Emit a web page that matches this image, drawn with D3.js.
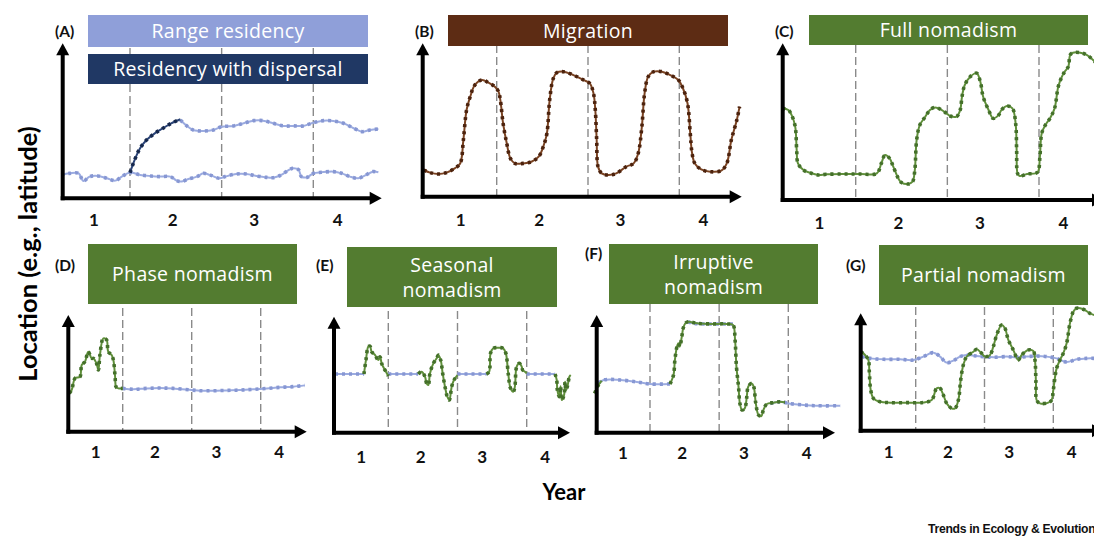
<!DOCTYPE html>
<html>
<head>
<meta charset="utf-8">
<script src="https://cdn.jsdelivr.net/npm/d3@7"></script>
<style>
  body { margin: 0; background: #fff; }
  svg { display: block; }
</style>
</head>
<body>
<svg id="chart" width="1094" height="536"></svg>
<script>
// ---- values: [year position, location (0 = x axis, 100 = arrow tip)] ----
const years = ["1", "2", "3", "4"];
const yearLabelAt = [0.6, 1.46, 2.35, 3.26];

const rangeResidencyLow = [[0.25,15.1],[0.34,16.1],[0.44,16.1],[0.49,11.2],[0.56,14.0],[0.65,14.4],[0.75,12.9],[0.84,11.4],[0.91,14.0],[1.0,16.6],[1.11,15.1],[1.22,14.4],[1.33,14.0],[1.44,14.0],[1.51,11.4],[1.56,10.8],[1.63,12.3],[1.73,14.0],[1.80,16.1],[1.87,15.1],[1.98,12.9],[2.04,14.0],[2.16,15.7],[2.27,15.7],[2.38,14.4],[2.49,13.5],[2.56,13.3],[2.65,15.1],[2.72,17.8],[2.78,19.4],[2.84,18.3],[2.87,14.0],[2.93,13.5],[3.0,16.1],[3.09,16.8],[3.22,17.2],[3.31,16.1],[3.40,14.0],[3.49,12.9],[3.56,14.6],[3.65,17.2],[3.71,16.8]];
const rangeResidencyHigh = [[1.55,50.5],[1.62,46.7],[1.69,44.1],[1.80,43.4],[1.91,44.1],[2.0,46.2],[2.13,46.7],[2.24,48.4],[2.35,50.1],[2.45,50.1],[2.56,48.4],[2.67,46.7],[2.78,46.7],[2.89,46.7],[3.0,48.8],[3.11,50.1],[3.22,49.9],[3.33,48.4],[3.44,45.2],[3.53,43.0],[3.62,44.1],[3.71,44.7]];
const dispersal = [[1.0,16.6],[1.05,24.7],[1.11,32.3],[1.18,37.6],[1.27,41.9],[1.36,45.2],[1.45,48.4],[1.55,51.0]];

const migration = [[0.2,17.4],[0.27,15.7],[0.36,14.8],[0.45,15.7],[0.54,18.5],[0.6,21.7],[0.635,37.0],[0.67,56.5],[0.71,65.2],[0.76,72.8],[0.84,76.1],[0.91,74.3],[0.98,71.7],[1.02,68.5],[1.04,63.0],[1.07,47.8],[1.11,34.8],[1.15,25.0],[1.2,21.7],[1.29,21.7],[1.38,22.8],[1.46,26.1],[1.51,32.6],[1.55,41.3],[1.58,63.0],[1.62,77.2],[1.66,80.9],[1.73,81.5],[1.84,79.3],[1.95,76.1],[2.02,73.9],[2.06,67.4],[2.08,56.5],[2.095,37.0],[2.11,19.6],[2.15,15.2],[2.22,14.1],[2.31,15.2],[2.42,19.6],[2.5,21.7],[2.55,28.3],[2.59,45.7],[2.62,67.4],[2.66,78.3],[2.72,81.5],[2.81,81.5],[2.9,79.3],[2.99,76.1],[3.04,70.7],[3.09,60.9],[3.12,41.3],[3.14,28.3],[3.17,21.7],[3.24,17.8],[3.34,16.3],[3.46,17.0],[3.52,21.7],[3.57,37.0],[3.63,50.0],[3.66,58.7]];

const fullNomadism = [[0.2,58.5],[0.265,57.4],[0.3,54.3],[0.34,46.8],[0.356,31.9],[0.37,23.4],[0.43,19.1],[0.5,17.4],[0.59,16.0],[0.68,16.4],[0.865,16.6],[1.05,16.6],[1.23,17.0],[1.28,23.4],[1.32,28.7],[1.37,26.6],[1.41,21.3],[1.465,13.8],[1.5,11.1],[1.57,10.2],[1.62,11.7],[1.645,19.1],[1.665,38.3],[1.7,47.9],[1.76,53.2],[1.81,57.4],[1.865,59.1],[1.94,57.4],[1.99,55.3],[2.03,53.6],[2.1,53.2],[2.14,57.4],[2.16,66.0],[2.19,73.4],[2.25,78.7],[2.32,80.9],[2.36,75.5],[2.39,66.0],[2.45,57.4],[2.5,52.1],[2.56,54.3],[2.59,57.4],[2.65,60.0],[2.71,58.5],[2.745,48.9],[2.756,31.9],[2.766,17.0],[2.79,15.3],[2.87,16.6],[2.96,17.0],[2.99,18.1],[3.01,27.7],[3.03,42.6],[3.07,47.9],[3.12,52.1],[3.17,58.5],[3.21,72.3],[3.25,78.7],[3.28,81.9],[3.32,85.1],[3.34,92.6],[3.37,94.0],[3.45,94.0],[3.52,92.6],[3.59,89.4],[3.66,85.0]];

const phaseNomadic = [[0.227,32.9],[0.26,35.7],[0.31,45.7],[0.38,47.1],[0.406,57.1],[0.454,60.0],[0.5,68.6],[0.55,62.9],[0.575,62.9],[0.62,58.6],[0.647,52.9],[0.67,65.7],[0.72,80.0],[0.768,78.6],[0.79,68.6],[0.84,65.7],[0.865,61.4],[0.89,47.1],[0.903,38.6],[0.937,37.1],[1.0,37.1]];
const phaseResident = [[1.0,37.1],[1.155,36.3],[1.35,37.1],[1.54,37.4],[1.73,37.1],[2.0,35.7],[2.12,35.1],[2.31,35.1],[2.51,35.4],[2.7,35.7],[2.89,36.3],[3.09,37.1],[3.28,38.0],[3.47,38.6],[3.64,39.7]];

const seasonalResident = [
  [[0.23,50.6],[0.65,50.6]],
  [[1.0,50.6],[1.43,50.6]],
  [[2.0,50.6],[2.42,50.6]],
  [[3.0,50.6],[3.41,50.6]]
];
const seasonalMoves = [
  [[0.648,50.6],[0.677,62.6],[0.711,74.1],[0.735,74.7],[0.759,69.8],[0.807,67.0],[0.855,62.6],[0.88,65.5],[0.904,59.8],[0.937,55.5],[0.966,52.6],[1.0,48.9]],
  [[1.434,50.6],[1.482,52.6],[1.53,48.3],[1.554,42.5],[1.578,41.1],[1.602,51.1],[1.651,59.8],[1.699,64.1],[1.723,67.0],[1.757,62.6],[1.786,51.1],[1.819,39.7],[1.853,31.0],[1.882,28.2],[1.916,39.7],[1.949,45.4],[2.0,49.7]],
  [[2.419,50.6],[2.458,52.6],[2.477,68.4],[2.516,72.7],[2.588,73.3],[2.66,72.7],[2.699,68.4],[2.733,51.1],[2.767,38.2],[2.805,35.3],[2.829,39.7],[2.855,56.9],[2.894,59.8],[2.928,56.9],[2.942,54.0],[2.976,52.6],[3.0,51.1]],
  [[3.41,50.6],[3.434,45.4],[3.443,36.8],[3.472,31.0],[3.49,40.0],[3.506,28.2],[3.54,32.5],[3.555,44.0],[3.569,36.8],[3.593,41.1],[3.617,48.3],[3.636,49.7]]
];

const irruptiveResident = [
  [[0.25,41.9],[0.33,44.8],[0.57,44.8],[0.81,43.1],[1.0,41.4],[1.29,41.4]],
  [[1.55,94.3],[1.63,92.9],[1.77,92.4],[1.96,92.4],[2.11,92.4],[2.2,92.4]],
  [[2.74,24.9],[2.88,26.3],[3.0,24.9],[3.22,23.5],[3.41,22.9],[3.75,22.9]]
];
const irruptiveMoves = [
  [[0.2,33.4],[0.24,39.1],[0.3,44.0]],
  [[1.29,41.4],[1.34,49.0],[1.36,61.8],[1.39,73.1],[1.41,75.9],[1.43,73.1],[1.46,81.6],[1.48,88.7],[1.51,92.9],[1.55,94.3],[1.68,92.9],[1.87,92.4],[2.11,92.4],[2.2,91.5],[2.23,78.8],[2.25,56.1],[2.28,39.1],[2.3,24.9],[2.33,19.3],[2.37,20.7],[2.4,30.6],[2.42,39.1],[2.47,41.9],[2.5,39.1],[2.53,24.9],[2.57,15.0],[2.61,14.2],[2.64,19.3],[2.69,24.4],[2.78,25.5],[2.88,26.3],[2.95,25.8]]
];

const partialResident = [[0.215,63.1],[0.337,61.6],[0.53,60.8],[0.772,60.8],[0.966,60.2],[1.111,63.1],[1.257,66.5],[1.354,63.1],[1.45,58.0],[1.547,59.7],[1.644,63.1],[1.741,64.5],[1.838,63.9],[1.983,63.1],[2.128,62.5],[2.322,63.1],[2.467,62.5],[2.613,63.1],[2.758,63.6],[2.903,63.1],[3.048,61.6],[3.194,58.5],[3.339,60.8],[3.484,61.6],[3.62,61.6]];
const partialNomadic = [[0.201,67.3],[0.264,64.5],[0.312,60.2],[0.327,48.9],[0.346,34.7],[0.385,27.6],[0.482,24.7],[0.627,23.9],[0.869,23.9],[1.111,24.1],[1.232,26.1],[1.305,36.1],[1.354,36.1],[1.402,30.4],[1.45,23.3],[1.523,19.0],[1.571,19.0],[1.62,26.1],[1.654,43.2],[1.692,56.0],[1.741,63.1],[1.838,67.3],[1.886,69.3],[1.959,65.9],[2.007,63.1],[2.08,64.5],[2.128,71.6],[2.177,81.5],[2.249,90.1],[2.298,87.2],[2.346,77.3],[2.419,68.8],[2.492,60.2],[2.54,64.5],[2.637,68.8],[2.709,67.9],[2.734,60.2],[2.748,40.3],[2.758,26.1],[2.806,23.3],[2.927,23.9],[2.976,26.1],[3.0,34.7],[3.048,53.1],[3.097,60.2],[3.145,65.9],[3.194,74.4],[3.242,91.5],[3.291,101.4],[3.339,104.3],[3.436,103.4],[3.533,100.0],[3.62,98.0]];

// ---- styles ----
const palette = {
  resident: { line: "#9babe0", dot: "#8797d3" },
  disperser: { line: "#2b4478", dot: "#16284d" },
  migrant: { line: "#7a4322", dot: "#4c220d" },
  nomad: { line: "#5f8f3a", dot: "#44702a" }
};
const boxFill = { range: "#8f9fd9", dispersal: "#203864", migration: "#5d2c14", nomad: "#537c30" };

// ---- panel layout ----
const panels = [
  { tag: "(A)", tagPos: [55, 37], originX: 62.7, axisY: 198.3, topY: 43.3, tipX: 381.7, bounds: [130, 221.7, 313.3], dashTop: 48, labelY: 220,
    boxes: [ { lines: ["Range residency"], fill: boxFill.range, r: [88, 15, 368, 47] },
             { lines: ["Residency with dispersal"], fill: boxFill.dispersal, r: [88, 54, 368, 84] } ],
    series: [ { data: [rangeResidencyLow], style: "resident" }, { data: [rangeResidencyHigh], style: "resident" }, { data: [dispersal], style: "disperser" } ] },
  { tag: "(B)", tagPos: [415, 37], originX: 422.7, axisY: 196.7, topY: 43.3, tipX: 741.7, bounds: [496.7, 588.3, 679.3], dashTop: 45, labelY: 220,
    boxes: [ { lines: ["Migration"], fill: boxFill.migration, r: [448, 15, 728, 46] } ],
    series: [ { data: [migration], style: "migrant" } ] },
  { tag: "(C)", tagPos: [775, 37], originX: 782.7, axisY: 200, topY: 43.3, tipX: 1104, bounds: [855.7, 947.3, 1039], dashTop: 45, labelY: 223,
    boxes: [ { lines: ["Full nomadism"], fill: boxFill.nomad, r: [809, 15, 1088, 45] } ],
    series: [ { data: [fullNomadism], style: "nomad" } ] },
  { tag: "(D)", tagPos: [55, 271], originX: 68.3, axisY: 431.7, topY: 315, tipX: 306.7, bounds: [122.7, 191.7, 260.7], dashTop: 308, labelY: 452,
    boxes: [ { lines: ["Phase nomadism"], fill: boxFill.nomad, r: [88, 244, 297, 304] } ],
    series: [ { data: [phaseResident], style: "resident" }, { data: [phaseNomadic], style: "nomad" } ] },
  { tag: "(E)", tagPos: [316, 271], originX: 334, axisY: 432.7, topY: 316.7, tipX: 570, bounds: [388.3, 457.7, 526.7], dashTop: 311, labelY: 457,
    boxes: [ { lines: ["Seasonal", "nomadism"], fill: boxFill.nomad, r: [347, 247, 557, 307] } ],
    series: [ { data: seasonalResident, style: "resident" }, { data: seasonalMoves, style: "nomad" } ] },
  { tag: "(F)", tagPos: [585, 259], originX: 596.7, axisY: 432.7, topY: 315, tipX: 835, bounds: [650, 719, 788.3], dashTop: 304, labelY: 453,
    boxes: [ { lines: ["Irruptive", "nomadism"], fill: boxFill.nomad, r: [609, 244, 818, 304] } ],
    series: [ { data: irruptiveResident, style: "resident" }, { data: irruptiveMoves, style: "nomad" } ] },
  { tag: "(G)", tagPos: [846, 271], originX: 860.7, axisY: 430.7, topY: 313.3, tipX: 1104, bounds: [915.7, 984.3, 1053.3], dashTop: 307, labelY: 452,
    boxes: [ { lines: ["Partial nomadism"], fill: boxFill.nomad, r: [879, 245, 1088, 305] } ],
    series: [ { data: [partialResident], style: "resident" }, { data: [partialNomadic], style: "nomad" } ] }
];

const svg = d3.select("#chart");
const titleFont = "'Open Sans', 'Noto Sans', sans-serif";
const boldFont = "Lato, 'Open Sans', sans-serif";

panels.forEach(p => {
  const g = svg.append("g");
  // year boundaries fall on the dashed separators
  const x = d3.scaleLinear().domain([1, 3]).range([p.bounds[0], p.bounds[2]]);
  const y = d3.scaleLinear().domain([0, 100]).range([p.axisY, p.topY]);

  // dashed year separators
  g.selectAll("line.sep").data([1, 2, 3]).join("line")
    .attr("x1", d => x(d)).attr("x2", d => x(d))
    .attr("y1", p.dashTop).attr("y2", p.axisY)
    .attr("stroke", "#8a8a8a").attr("stroke-width", 1.4)
    .attr("stroke-dasharray", "8 4");

  // title boxes
  p.boxes.forEach(b => {
    const [x0, y0, x1, y1] = b.r;
    g.append("rect").attr("x", x0).attr("y", y0).attr("width", x1 - x0).attr("height", y1 - y0).attr("fill", b.fill);
    const cy = (y0 + y1) / 2, lh = 25;
    b.lines.forEach((t, i) => {
      g.append("text")
        .attr("x", (x0 + x1) / 2)
        .attr("y", cy + (i - (b.lines.length - 1) / 2) * lh)
        .attr("dy", "0.36em")
        .attr("text-anchor", "middle")
        .attr("fill", "#fff")
        .style("font-family", titleFont)
        .style("font-size", "19.5px")
        .style("letter-spacing", "0.3px")
        .text(t);
    });
  });

  // panel letter
  g.append("text").attr("x", p.tagPos[0]).attr("y", p.tagPos[1])
    .style("font-family", boldFont).style("font-weight", 700).style("font-size", "15.5px")
    .attr("fill", "#111").text(p.tag);

  // trajectories: a thin solid path under a square-dotted stroke
  const line = d3.line().x(d => x(d[0])).y(d => y(d[1])).curve(d3.curveCatmullRom.alpha(0.5));
  p.series.forEach(s => {
    const c = palette[s.style];
    s.data.forEach(seg => {
      g.append("path").attr("d", line(seg)).attr("fill", "none")
        .attr("stroke", c.line).attr("stroke-width", 2).attr("stroke-linejoin", "round");
      g.append("path").attr("d", line(seg)).attr("fill", "none")
        .attr("stroke", c.dot).attr("stroke-width", 3.6).attr("stroke-dasharray", "3 4");
    });
  });

  // axes with arrowheads
  const aw = 4, ah = 12, hw = 6.5;
  g.append("line").attr("x1", p.originX).attr("x2", p.originX)
    .attr("y1", p.axisY + aw / 2).attr("y2", p.topY + ah - 1)
    .attr("stroke", "#000").attr("stroke-width", aw);
  g.append("path").attr("d", `M${p.originX},${p.topY} L${p.originX - hw},${p.topY + ah} L${p.originX + hw},${p.topY + ah} Z`).attr("fill", "#000");
  g.append("line").attr("x1", p.originX - aw / 2).attr("x2", p.tipX - ah + 1)
    .attr("y1", p.axisY).attr("y2", p.axisY)
    .attr("stroke", "#000").attr("stroke-width", aw);
  g.append("path").attr("d", `M${p.tipX},${p.axisY} L${p.tipX - ah},${p.axisY - hw} L${p.tipX - ah},${p.axisY + hw} Z`).attr("fill", "#000");

  // year labels
  const fs = 17;
  const xAxis = d3.axisBottom(x).tickValues(yearLabelAt)
    .tickFormat((d, i) => years[i]).tickSize(0)
    .tickPadding(p.labelY - p.axisY - fs * 0.71 + fs * 0.36);
  const ax = g.append("g").attr("transform", `translate(0,${p.axisY})`).call(xAxis);
  ax.select(".domain").remove();
  ax.selectAll("text").style("font-family", boldFont).style("font-weight", 700)
    .style("font-size", fs + "px").attr("fill", "#111");
});

// shared axis titles
svg.append("text")
  .attr("transform", "translate(37,254) rotate(-90)")
  .attr("text-anchor", "middle")
  .style("font-family", boldFont).style("font-weight", 700).style("font-size", "25.5px")
  .attr("fill", "#000").text("Location (e.g., latitude)");
svg.append("text")
  .attr("x", 564).attr("y", 500).attr("text-anchor", "middle")
  .style("font-family", boldFont).style("font-weight", 700).style("font-size", "22px")
  .attr("fill", "#000").text("Year");

svg.append("text")
  .attr("x", 928).attr("y", 533)
  .style("font-family", "'Liberation Sans', Arial, sans-serif").style("font-weight", 700).style("font-size", "12.2px")
  .style("letter-spacing", "-0.3px")
  .attr("fill", "#111").text("Trends in Ecology & Evolution");
</script>
</body>
</html>
